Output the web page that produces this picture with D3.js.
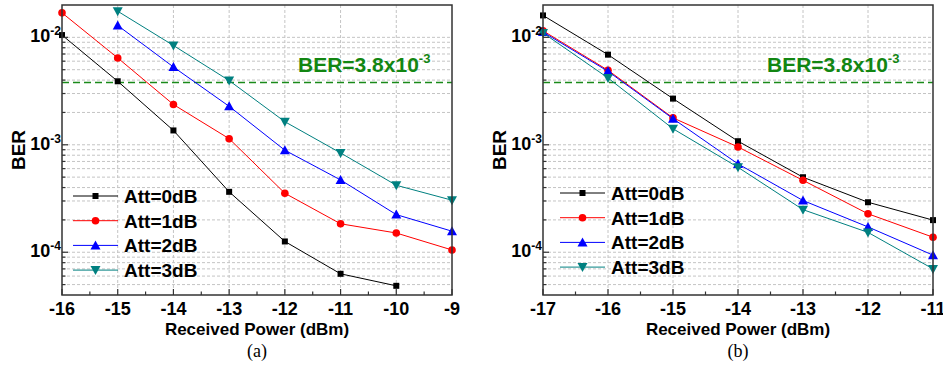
<!DOCTYPE html>
<html>
<head>
<meta charset="utf-8">
<script src="https://cdn.jsdelivr.net/npm/d3@7"></script>
<style>
  body { margin: 0; background: #fff; }
  text { font-family: "Liberation Sans", Arial, sans-serif; }
</style>
</head>
<body>
<div id="chart"></div>
<script>
// 数据
const seriesNames = ['Att=0dB', 'Att=1dB', 'Att=2dB', 'Att=3dB']
const powerA = [-16, -15, -14, -13, -12, -11, -10, -9]
const berA0 = [1.05e-2, 3.9e-3, 1.36e-3, 3.65e-4, 1.26e-4, 6.3e-5, 4.87e-5, null]
const berA1 = [1.69e-2, 6.43e-3, 2.37e-3, 1.14e-3, 3.54e-4, 1.84e-4, 1.51e-4, 1.05e-4]
const berA2 = [null, 1.29e-2, 5.3e-3, 2.28e-3, 8.9e-4, 4.71e-4, 2.24e-4, 1.57e-4]
const berA3 = [null, 1.75e-2, 8.4e-3, 3.96e-3, 1.64e-3, 8.4e-4, 4.2e-4, 3.05e-4]
const powerB = [-17, -16, -15, -14, -13, -12, -11]
const berB0 = [1.6e-2, 6.9e-3, 2.69e-3, 1.08e-3, 4.99e-4, 2.92e-4, 1.99e-4]
const berB1 = [1.15e-2, 4.94e-3, 1.78e-3, 9.55e-4, 4.67e-4, 2.28e-4, 1.38e-4]
const berB2 = [1.12e-2, 4.83e-3, 1.75e-3, 6.64e-4, 3.03e-4, 1.72e-4, 9.4e-5]
const berB3 = [1.1e-2, 4.19e-3, 1.41e-3, 6.17e-4, 2.49e-4, 1.53e-4, 7.0e-5]
const berLimit = 3.8e-3
const yDecades = [1e-4, 1e-3, 1e-2]

const colors = ['#000000', '#ff0000', '#0000ff', '#008080']
const symbols = ['square', 'circle', 'up', 'down']

const W = 943, H = 365
const svg = d3.select('#chart').append('svg').attr('width', W).attr('height', H)

function marker (g, type, color, x, y) {
  if (type === 'square') {
    g.append('rect').attr('x', x - 3).attr('y', y - 3).attr('width', 6).attr('height', 6).attr('fill', color)
  } else if (type === 'circle') {
    g.append('circle').attr('cx', x).attr('cy', y).attr('r', 3.8).attr('fill', color)
  } else {
    let s = type === 'up' ? 1 : -1
    g.append('path').attr('fill', color)
      .attr('d', `M${x},${y - 5 * s}L${x + 5},${y + 4 * s}L${x - 5},${y + 4 * s}Z`)
  }
}

function drawPanel (op) {
  let g = svg.append('g')
  let xScale = d3.scaleLinear().domain(op.xDomain).range([op.left, op.right])
  let yScale = d3.scaleLog().domain([4e-5, 2e-2]).range([op.bottom, op.top])

  // 网格
  let minors = []
  yDecades.concat([1e-5]).forEach(d => {
    for (let k = 2; k <= 9; k++) {
      let v = d * k
      if (v > 4e-5 && v < 2e-2) minors.push(v)
    }
  })
  let grid = g.append('g').attr('stroke', '#c4c4c4').attr('stroke-width', 1)
    .attr('stroke-dasharray', '3,2').attr('fill', 'none')
  grid.selectAll('.gx').data(op.ticks.slice(1, -1)).enter().append('line')
    .attr('x1', d => xScale(d)).attr('x2', d => xScale(d))
    .attr('y1', op.top).attr('y2', op.bottom)
  grid.selectAll('.gy').data(yDecades.concat(minors)).enter().append('line')
    .attr('x1', op.left).attr('x2', op.right)
    .attr('y1', d => yScale(d)).attr('y2', d => yScale(d))

  // 阈值线
  g.append('line').attr('x1', op.left).attr('x2', op.right)
    .attr('y1', yScale(berLimit)).attr('y2', yScale(berLimit))
    .attr('stroke', '#1a8a1a').attr('stroke-width', 1.6).attr('stroke-dasharray', '7,4')
  let lt = g.append('text').attr('x', op.limitX).attr('y', yScale(berLimit) - 10)
    .attr('fill', '#128612').attr('font-weight', 'bold').attr('font-size', 21)
    .text('BER=3.8x10')
  lt.append('tspan').attr('dy', -9).attr('font-size', 13).text('-3')

  // 曲线
  op.series.forEach((ys, i) => {
    let pts = op.xs.map((x, j) => [x, ys[j]]).filter(p => p[1] != null)
    let line = d3.line().x(p => xScale(p[0])).y(p => yScale(p[1]))
    g.append('path').attr('d', line(pts)).attr('fill', 'none')
      .attr('stroke', colors[i]).attr('stroke-width', 1)
    let mg = g.append('g')
    pts.forEach(p => marker(mg, symbols[i], colors[i], xScale(p[0]), yScale(p[1])))
  })

  // 边框与刻度
  g.append('rect').attr('x', op.left).attr('y', op.top)
    .attr('width', op.right - op.left).attr('height', op.bottom - op.top)
    .attr('fill', 'none').attr('stroke', '#333').attr('stroke-width', 1.5)
  let tk = g.append('g').attr('stroke', '#333').attr('stroke-width', 1.2)
  op.ticks.forEach(t => {
    tk.append('line').attr('x1', xScale(t)).attr('x2', xScale(t))
      .attr('y1', op.bottom).attr('y2', op.bottom - 6)
    if (t < op.xDomain[1]) {
      tk.append('line').attr('x1', xScale(t + 0.5)).attr('x2', xScale(t + 0.5))
        .attr('y1', op.bottom).attr('y2', op.bottom - 3.5)
    }
  })
  yDecades.forEach(d => {
    tk.append('line').attr('x1', op.left).attr('x2', op.left + 6)
      .attr('y1', yScale(d)).attr('y2', yScale(d))
  })
  minors.forEach(d => {
    tk.append('line').attr('x1', op.left).attr('x2', op.left + 3.5)
      .attr('y1', yScale(d)).attr('y2', yScale(d))
  })

  // 文本
  g.selectAll('.xl').data(op.ticks).enter().append('text')
    .attr('x', d => xScale(d)).attr('y', op.bottom + 20)
    .attr('text-anchor', 'middle').attr('font-weight', 'bold').attr('font-size', 18)
    .text(d => d)
  yDecades.forEach(d => {
    let t = g.append('text').attr('x', op.left - 1).attr('y', yScale(d) + 5)
      .attr('text-anchor', 'end').attr('font-weight', 'bold').attr('font-size', 18)
      .text('10')
    t.append('tspan').attr('dy', -7).attr('font-size', 12).text(Math.log10(d))
  })
  g.append('text').attr('transform', `translate(${op.left - 37}, ${(op.top + op.bottom) / 2}) rotate(-90)`)
    .attr('text-anchor', 'middle').attr('font-weight', 'bold').attr('font-size', 19).text('BER')
  g.append('text').attr('x', (op.left + op.right) / 2).attr('y', op.bottom + 40)
    .attr('text-anchor', 'middle').attr('font-weight', 'bold').attr('font-size', 17)
    .text('Received Power (dBm)')
  g.append('text').attr('x', (op.left + op.right) / 2).attr('y', op.bottom + 62)
    .attr('text-anchor', 'middle').attr('font-size', 18)
    .style('font-family', '"Liberation Serif", "Times New Roman", serif')
    .text(op.caption)

  // 图例
  let lg = g.append('g')
  seriesNames.forEach((name, i) => {
    let y = op.legendY + i * 24.7
    lg.append('line').attr('x1', op.legendX).attr('x2', op.legendX + 45)
      .attr('y1', y).attr('y2', y).attr('stroke', colors[i]).attr('stroke-width', 1)
    marker(lg, symbols[i], colors[i], op.legendX + 22.5, y)
    lg.append('text').attr('x', op.legendX + 51).attr('y', y + 7)
      .attr('font-weight', 'bold').attr('font-size', 19).text(name)
  })
}

drawPanel({
  left: 62, right: 452, top: 5, bottom: 295,
  xDomain: [-16, -9], ticks: d3.range(-16, -8), xs: powerA,
  series: [berA0, berA1, berA2, berA3],
  limitX: 298, legendX: 73, legendY: 196, caption: '(a)'
})
drawPanel({
  left: 543, right: 933, top: 5, bottom: 295,
  xDomain: [-17, -11], ticks: d3.range(-17, -10), xs: powerB,
  series: [berB0, berB1, berB2, berB3],
  limitX: 767, legendX: 560, legendY: 193, caption: '(b)'
})
</script>
</body>
</html>
